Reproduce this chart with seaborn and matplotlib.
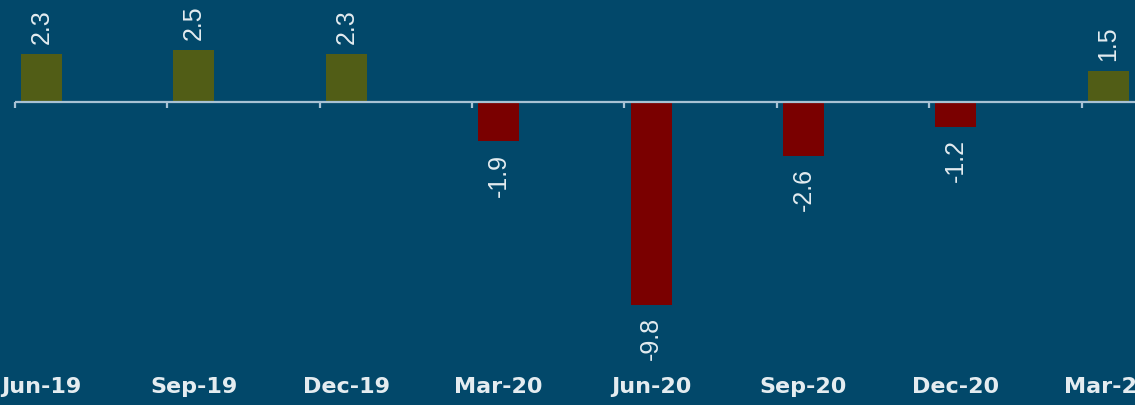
import matplotlib
matplotlib.use("Agg")
import matplotlib.pyplot as plt
import numpy as np
import pandas as pd
import seaborn as sns

# ── data ────────────────────────────────────────────────────────────────
quarters = ["Jun-19", "Sep-19", "Dec-19", "Mar-20", "Jun-20", "Sep-20", "Dec-20", "Mar-21"]
growth = [2.3, 2.5, 2.3, -1.9, -9.8, -2.6, -1.2, 1.5]

BG = "#02486a"
POS = "#515d16"
NEG = "#7a0000"
TXT = "#e4ecf0"
AXIS = "#a8c2d4"

df = pd.DataFrame({"quarter": quarters, "growth": growth})
colors = [POS if v >= 0 else NEG for v in growth]

sns.set_theme(style="white")
plt.rcParams["font.family"] = ["DejaVu Sans"]

fig = plt.figure(figsize=(11.35, 4.05), dpi=100, facecolor=BG)
ax = fig.add_axes([0, 35 / 405, 1, 370 / 405])
ax.set_facecolor(BG)

sns.barplot(data=df, x="quarter", y="growth", hue="quarter", palette=colors,
            saturation=1, width=0.27, linewidth=0, legend=False, ax=ax)

# ── limits (crop as in the reference) ───────────────────────────────────
ax.set_xlim(-0.272, 7.175)
ax.set_ylim(-12.95, 4.93)

# zero line with small ticks to the left of each bar
pos = np.arange(len(quarters))
ax.hlines(0, pos[0] - 0.175, 7.175, color=AXIS, lw=1.6, zorder=3)
ax.vlines(pos - 0.175, -0.28, 0, color=AXIS, lw=1.6, zorder=3)

# value labels
for x, v in zip(pos, growth):
    off = 0.5 if v >= 0 else -0.6
    ax.text(x, v + off, f"{v:.1f}", rotation=90, ha="center",
            va="bottom" if v >= 0 else "top", color=TXT, fontsize=18,
            family=["Liberation Sans", "DejaVu Sans"])

for s in ax.spines.values():
    s.set_visible(False)
ax.set_yticks([])
ax.set_xlabel("")
ax.set_ylabel("")
ax.tick_params(axis="x", length=0, pad=5, colors=TXT, labelsize=16)
for lab in ax.get_xticklabels():
    lab.set_fontweight("bold")

fig.savefig("out.png", dpi=100, facecolor=BG)
